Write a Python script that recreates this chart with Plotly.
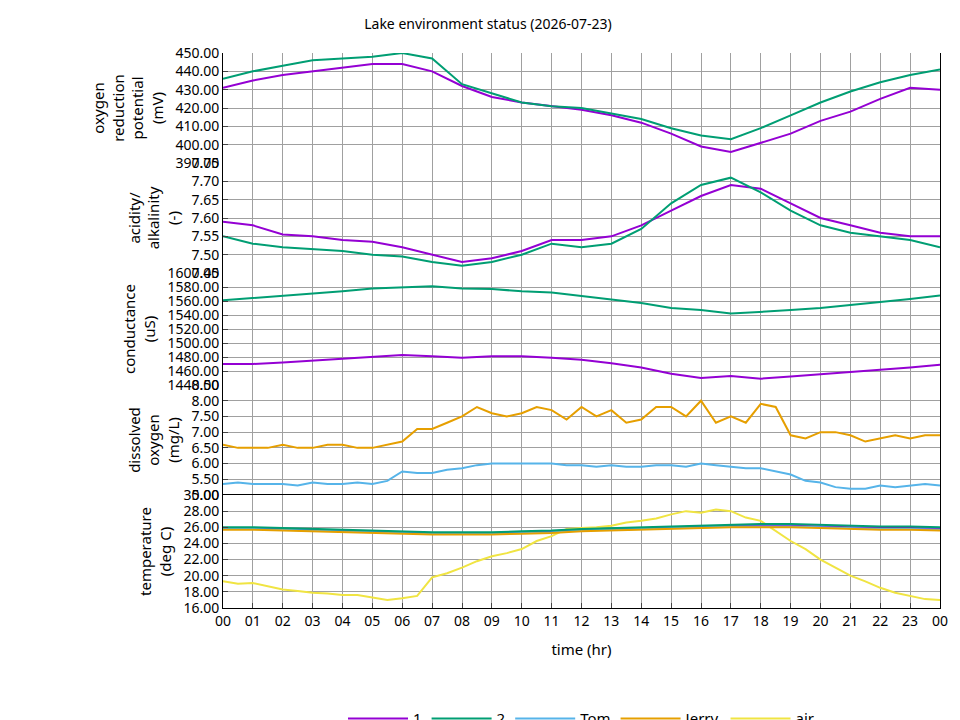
import plotly.graph_objects as go

hours = list(range(25))
half = [i * 0.5 for i in range(49)]
tick_labels = ["%02d" % (h % 24) for h in range(25)]

orp_1 = [431,435,438,440,442,444,444,440,432,426,423,421,419,416,412,406,399,396,401,406,413,418,425,431,430]
orp_2 = [436,440,443,446,447,448,450,447,433,428,423,421,420,417,414,409,405,403,409,416,423,429,434,438,441]
ph_1 = [7.59,7.58,7.555,7.55,7.54,7.535,7.52,7.50,7.48,7.49,7.51,7.54,7.54,7.55,7.58,7.62,7.66,7.69,7.68,7.64,7.60,7.58,7.56,7.55,7.55]
ph_2 = [7.55,7.53,7.52,7.515,7.51,7.50,7.495,7.48,7.47,7.48,7.50,7.53,7.52,7.53,7.57,7.64,7.69,7.71,7.67,7.62,7.58,7.56,7.55,7.54,7.52]
cond_1 = [1470,1470,1472,1475,1478,1481,1483,1481,1479,1481,1481,1479,1476,1471,1465,1456,1450,1453,1449,1452,1455,1459,1462,1465,1469]
cond_2 = [1561,1564,1567,1570,1574,1578,1580,1581,1578,1577,1574,1572,1567,1562,1557,1550,1547,1542,1544,1547,1550,1554,1558,1563,1568]
do_jerry = [6.6,6.5,6.5,6.5,6.6,6.5,6.5,6.6,6.6,6.5,6.5,6.6,6.7,7.1,7.1,7.3,7.5,7.8,7.6,7.5,7.6,7.8,7.7,7.4,7.8,7.5,7.7,7.3,7.4,7.8,7.8,7.5,8.0,7.3,7.5,7.3,7.9,7.8,6.9,6.8,7.0,7.0,6.9,6.7,6.8,6.9,6.8,6.9,6.9]
do_tom = [5.35,5.4,5.35,5.35,5.35,5.3,5.4,5.35,5.35,5.4,5.35,5.45,5.75,5.7,5.7,5.8,5.85,5.95,6.0,6.0,6.0,6.0,6.0,5.95,5.95,5.9,5.95,5.9,5.9,5.95,5.95,5.9,6.0,5.95,5.9,5.85,5.85,5.75,5.65,5.45,5.4,5.25,5.2,5.2,5.3,5.25,5.3,5.35,5.3]
t_1 = [25.9,25.9,25.8,25.7,25.6,25.5,25.4,25.3,25.3,25.3,25.4,25.5,25.7,25.8,25.9,26.0,26.1,26.2,26.2,26.2,26.1,26.0,25.9,25.9,25.8]
t_2 = [26.0,26.0,25.9,25.8,25.7,25.6,25.5,25.4,25.4,25.4,25.5,25.6,25.8,25.9,26.0,26.1,26.2,26.3,26.4,26.4,26.3,26.2,26.1,26.1,26.0]
t_tom = [25.8,25.8,25.7,25.6,25.5,25.4,25.3,25.2,25.2,25.2,25.3,25.4,25.6,25.7,25.8,25.9,26.0,26.1,26.1,26.1,26.0,25.9,25.8,25.8,25.7]
t_jerry = [25.7,25.7,25.6,25.5,25.4,25.3,25.2,25.1,25.1,25.1,25.2,25.3,25.5,25.6,25.7,25.8,25.9,26.0,26.0,26.0,25.9,25.8,25.7,25.7,25.6]
t_air = [19.3,19.0,19.1,18.7,18.3,18.1,17.9,17.8,17.6,17.6,17.3,17.0,17.2,17.5,19.8,20.3,21.0,21.8,22.4,22.8,23.3,24.3,24.9,25.8,25.9,26.0,26.2,26.6,26.8,27.1,27.6,28.0,27.8,28.2,28.0,27.2,26.8,25.6,24.3,23.3,22.0,21.0,20.0,19.3,18.5,17.9,17.5,17.1,17.0]

C1, C2, CT, CJ, CA = "#9400d3", "#009e73", "#56b4e9", "#e69f00", "#f0e442"

fig = go.Figure()
def add(x, y, c, name, ax, show):
    fig.add_trace(go.Scatter(x=x, y=y, mode="lines", line=dict(color=c, width=2), name=name,
                             xaxis="x", yaxis=ax, showlegend=show, legendgroup=name))

add(hours, orp_1, C1, "1", "y", True)
add(hours, orp_2, C2, "2", "y", True)
add(hours, ph_1, C1, "1", "y2", False)
add(hours, ph_2, C2, "2", "y2", False)
add(hours, cond_1, C1, "1", "y3", False)
add(hours, cond_2, C2, "2", "y3", False)
add(half, do_tom, CT, "Tom", "y4", True)
add(half, do_jerry, CJ, "Jerry", "y4", True)
add(half, t_air, CA, "air", "y5", True)
add(hours, t_1, C1, "1", "y5", False)
add(hours, t_tom, CT, "Tom", "y5", False)
add(hours, t_jerry, CJ, "Jerry", "y5", False)
add(hours, t_2, C2, "2", "y5", False)

top, bot = 45, 600
H = bot - top
bounds = [45, 155, 265, 377, 487, 600]
def dom(i):
    return [(bot - bounds[i + 1]) / H, (bot - bounds[i]) / H]

axcommon = dict(showgrid=True, gridcolor="#a0a0a0", gridwidth=1, showline=True, linecolor="black",
                mirror=True, ticks="inside", tickfont=dict(size=14), tickformat=".2f", zeroline=False,
                automargin=False)
specs = [
    ("oxygen<br>reduction<br>potential<br>(mV)", [390, 450], 10),
    ("acidity/<br>alkalinity<br>(-)", [7.45, 7.75], 0.05),
    ("conductance<br>(uS)", [1440, 1600], 20),
    ("dissolved<br>oxygen<br>(mg/L)", [5.0, 8.5], 0.5),
    ("temperature<br>(deg C)", [16, 30], 2),
]
layout = {}
for i, (t, r, d) in enumerate(specs):
    key = "yaxis" if i == 0 else "yaxis%d" % (i + 1)
    layout[key] = dict(axcommon, domain=dom(i), range=r, dtick=d, tick0=r[0], anchor="x",
                       title=dict(text=t, font=dict(size=15), standoff=8))

fig.update_layout(
    **layout,
    xaxis=dict(axcommon, tickformat=None, range=[0, 24], tickvals=hours, ticktext=tick_labels,
               anchor="y5", title=dict(text="time (hr)", font=dict(size=15))),
    width=960, height=720,
    margin=dict(l=215, r=28, t=45, b=120, autoexpand=False),
    plot_bgcolor="white", paper_bgcolor="white",
    font=dict(family="Noto Sans", size=14, color="black"),
    title=dict(text="Lake environment status (2026-07-23)", x=0.5, y=0.985, font=dict(size=14)),
    legend=dict(orientation="h", x=0.5, xanchor="center", y=-0.17, yanchor="top",
                font=dict(size=15), itemwidth=60),
)
fig.write_html("out.html")
